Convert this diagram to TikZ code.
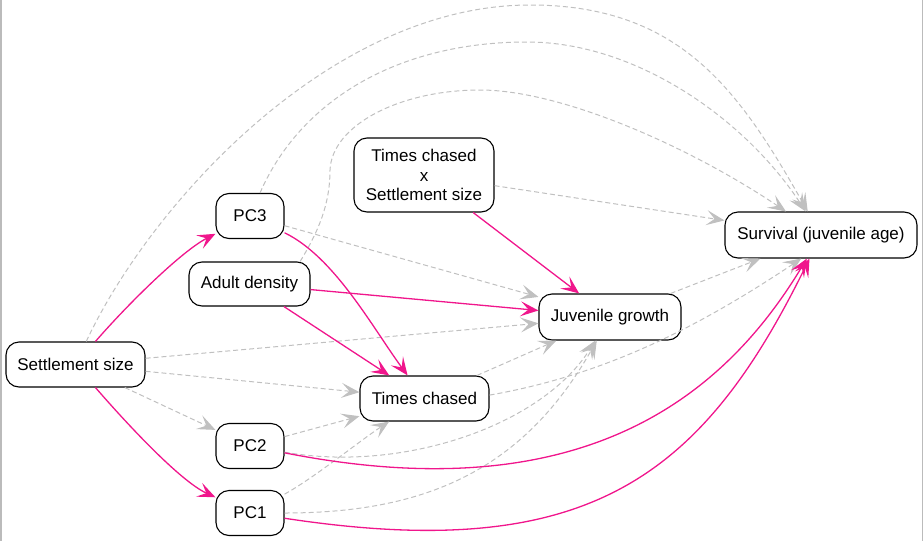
\documentclass[tikz,border=0pt]{standalone}
\usepackage{fontspec}
\setmainfont{Liberation Sans}
\usetikzlibrary{arrows.meta}
\definecolor{pinkc}{HTML}{F0168C}
\definecolor{grayc}{HTML}{C0C0C0}
\definecolor{framec}{HTML}{BBBBBB}
\begin{document}
\begin{tikzpicture}[x=1pt,y=-1pt,
  box/.style={draw, line width=1.1pt, rounded corners=13pt, inner sep=0pt, align=center, fill=white,
    font=\fontsize{17}{19.7}\selectfont},
  tipstyle/.style={-{Stealth[length=18pt,width=15pt,inset=8pt]}},
  pedge/.style={draw=pinkc, line width=1.3pt, tipstyle},
  gedge/.style={draw=grayc, line width=1pt, dash pattern=on 5pt off 3pt, tipstyle},
]
\useasboundingbox (0,0) rectangle (923,541);
\draw[framec, line width=1.5pt] (0.75,0) -- (0.75,541);
\draw[framec, line width=1.5pt] (922.25,0) -- (922.25,541);

\node[box, minimum width=139pt, minimum height=45pt] (settle) at (75.5,364.5) {Settlement size};
\node[box, minimum width=68pt, minimum height=45pt] (pc3) at (250,216) {PC3};
\node[box, minimum width=121pt, minimum height=44pt] (adult) at (249.5,284) {Adult density};
\node[box, minimum width=140pt, minimum height=74pt] (tcx) at (424,175) {Times chased\\x\\Settlement size};
\node[box, minimum width=142pt, minimum height=46pt] (juv) at (610,317) {Juvenile growth};
\node[box, minimum width=192pt, minimum height=46pt] (surv) at (821,235) {Survival (juvenile age)};
\node[box, minimum width=129pt, minimum height=45pt] (tc) at (424.5,398.5) {Times chased};
\node[box, minimum width=68pt, minimum height=45pt] (pc2) at (250,446) {PC2};
\node[box, minimum width=68pt, minimum height=45pt] (pc1) at (250,513) {PC1};

% grey dashed connectors
\draw[gedge] (settle) .. controls (149.5,206) and (330,5) .. (530,5) .. controls (680,5) and (739,90) .. (surv);
\draw[gedge] (settle) -- (juv);
\draw[gedge] (settle) -- (tc);
\draw[gedge] (settle) -- (pc2);
\draw[gedge] (pc3) .. controls (300,101) and (397,42) .. (527,42) .. controls (637,42) and (746,120) .. (surv);
\draw[gedge] (pc3) -- (juv);
\draw[gedge] (adult.24) .. controls (318,232) and (330,205) .. (330,170) .. controls (332,125) and (400,90) .. (480,90) .. controls (560,90) and (687,145) .. (surv);
\draw[gedge] (tcx) -- (surv);
\draw[gedge] (juv) -- (surv);
\draw[gedge] (tc) -- (juv);
\draw[gedge] (tc.3) .. controls (607,374.6) and (701.4,325.2) .. (surv.-130);
\draw[gedge] (pc2) -- (tc);
\draw[gedge] (pc2) .. controls (402,473) and (542,426) .. (juv);
\draw[gedge] (pc1) .. controls (313.7,478.2) and (360.7,440.1) .. (tc);
\draw[gedge] (pc1) .. controls (425,513) and (523.5,470.5) .. (juv);

% pink connectors
\draw[pedge] (settle) .. controls (127.75,304.2) and (181.4,251.3) .. (pc3);
\draw[pedge] (settle) .. controls (127.75,424.8) and (180.6,481.4) .. (pc1);
\draw[pedge] (pc3) .. controls (334.5,257) and (372.5,327.6) .. (tc);
\draw[pedge] (adult) -- (tc);
\draw[pedge] (adult) -- (juv);
\draw[pedge] (tcx) -- (juv);
\draw[pedge] (pc2) .. controls (584,512) and (724.4,395.6) .. (surv);
\draw[pedge] (pc1) .. controls (585,564) and (700.5,480.5) .. (surv);
\end{tikzpicture}
\end{document}
